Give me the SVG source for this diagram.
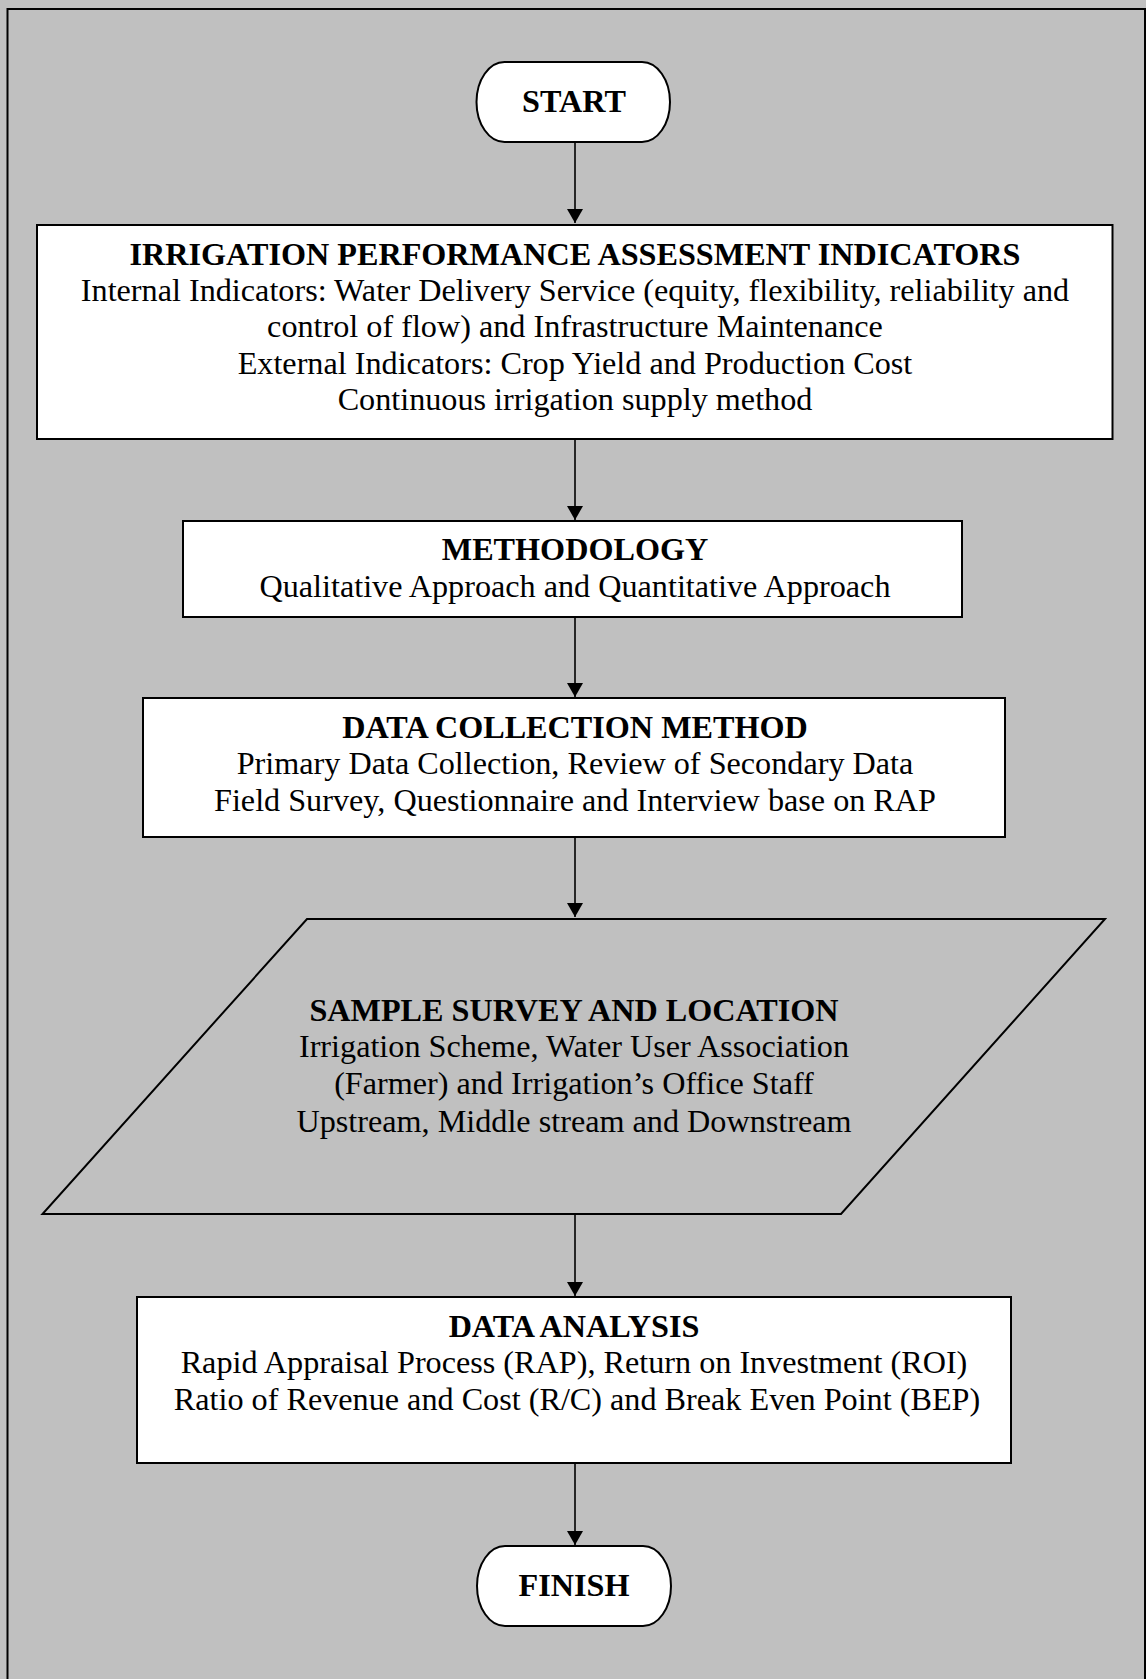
<svg xmlns="http://www.w3.org/2000/svg" width="1146" height="1679" viewBox="0 0 1146 1679">
<style>
.node{fill:#fff;stroke:#000;stroke-width:2}
.t{font-family:"Liberation Serif","Times New Roman",serif;font-size:32.2px;text-anchor:middle;fill:#000}
.b{font-weight:bold}
.conn line{stroke:#000;stroke-width:1.6}
</style>
<defs>
<marker id="ah" markerUnits="userSpaceOnUse" markerWidth="16" markerHeight="16" refX="14" refY="8" orient="auto">
<path d="M0,0 L14,8 L0,16 Z" fill="#000"/>
</marker>
</defs>
<rect x="0" y="0" width="1146" height="1679" fill="#c0c0c0"/>
<path d="M7.5,1679 V9 H1145 V1679" fill="none" stroke="#000" stroke-width="2"/>
<g class="conn">
<line x1="575" y1="142" x2="575" y2="223" marker-end="url(#ah)"/>
<line x1="575" y1="439" x2="575" y2="520" marker-end="url(#ah)"/>
<line x1="575" y1="617" x2="575" y2="697" marker-end="url(#ah)"/>
<line x1="575" y1="837" x2="575" y2="917" marker-end="url(#ah)"/>
<line x1="575" y1="1214" x2="575" y2="1296" marker-end="url(#ah)"/>
<line x1="575" y1="1463" x2="575" y2="1545" marker-end="url(#ah)"/>
</g>
<g id="start">
<rect class="node" x="476.5" y="62" width="193.5" height="80" rx="28" ry="40"/>
<text class="t b" x="574" y="112">START</text>
</g>
<g id="indicators">
<rect class="node" x="37" y="225" width="1075.5" height="214"/>
<text class="t b" x="575" y="265">IRRIGATION PERFORMANCE ASSESSMENT INDICATORS</text>
<text class="t" x="575" y="301">Internal Indicators: Water Delivery Service (equity, flexibility, reliability and</text>
<text class="t" x="575" y="337">control of flow) and Infrastructure Maintenance</text>
<text class="t" x="575" y="374">External Indicators: Crop Yield and Production Cost</text>
<text class="t" x="575" y="410">Continuous irrigation supply method</text>
</g>
<g id="methodology">
<rect class="node" x="183" y="521" width="779" height="96"/>
<text class="t b" x="575" y="560">METHODOLOGY</text>
<text class="t" x="575" y="597">Qualitative Approach and Quantitative Approach</text>
</g>
<g id="data-collection">
<rect class="node" x="143" y="698" width="862" height="139"/>
<text class="t b" x="575" y="738">DATA COLLECTION METHOD</text>
<text class="t" x="575" y="774">Primary Data Collection, Review of Secondary Data</text>
<text class="t" x="575" y="811">Field Survey, Questionnaire and Interview base on RAP</text>
</g>
<g id="sample">
<polygon points="307,919 1105,919 841,1214 42.5,1214" fill="#c0c0c0" stroke="#000" stroke-width="2"/>
<text class="t b" x="574" y="1021">SAMPLE SURVEY AND LOCATION</text>
<text class="t" x="574" y="1057">Irrigation Scheme, Water User Association</text>
<text class="t" x="574" y="1094">(Farmer) and Irrigation’s Office Staff</text>
<text class="t" x="574" y="1132">Upstream, Middle stream and Downstream</text>
</g>
<g id="analysis">
<rect class="node" x="137" y="1297" width="874" height="166"/>
<text class="t b" x="574" y="1337">DATA ANALYSIS</text>
<text class="t" x="574" y="1373">Rapid Appraisal Process (RAP), Return on Investment (ROI)</text>
<text class="t" x="577" y="1410">Ratio of Revenue and Cost (R/C) and Break Even Point (BEP)</text>
</g>
<g id="finish">
<rect class="node" x="477" y="1546" width="194" height="80" rx="28" ry="40"/>
<text class="t b" x="574" y="1596">FINISH</text>
</g>
</svg>
